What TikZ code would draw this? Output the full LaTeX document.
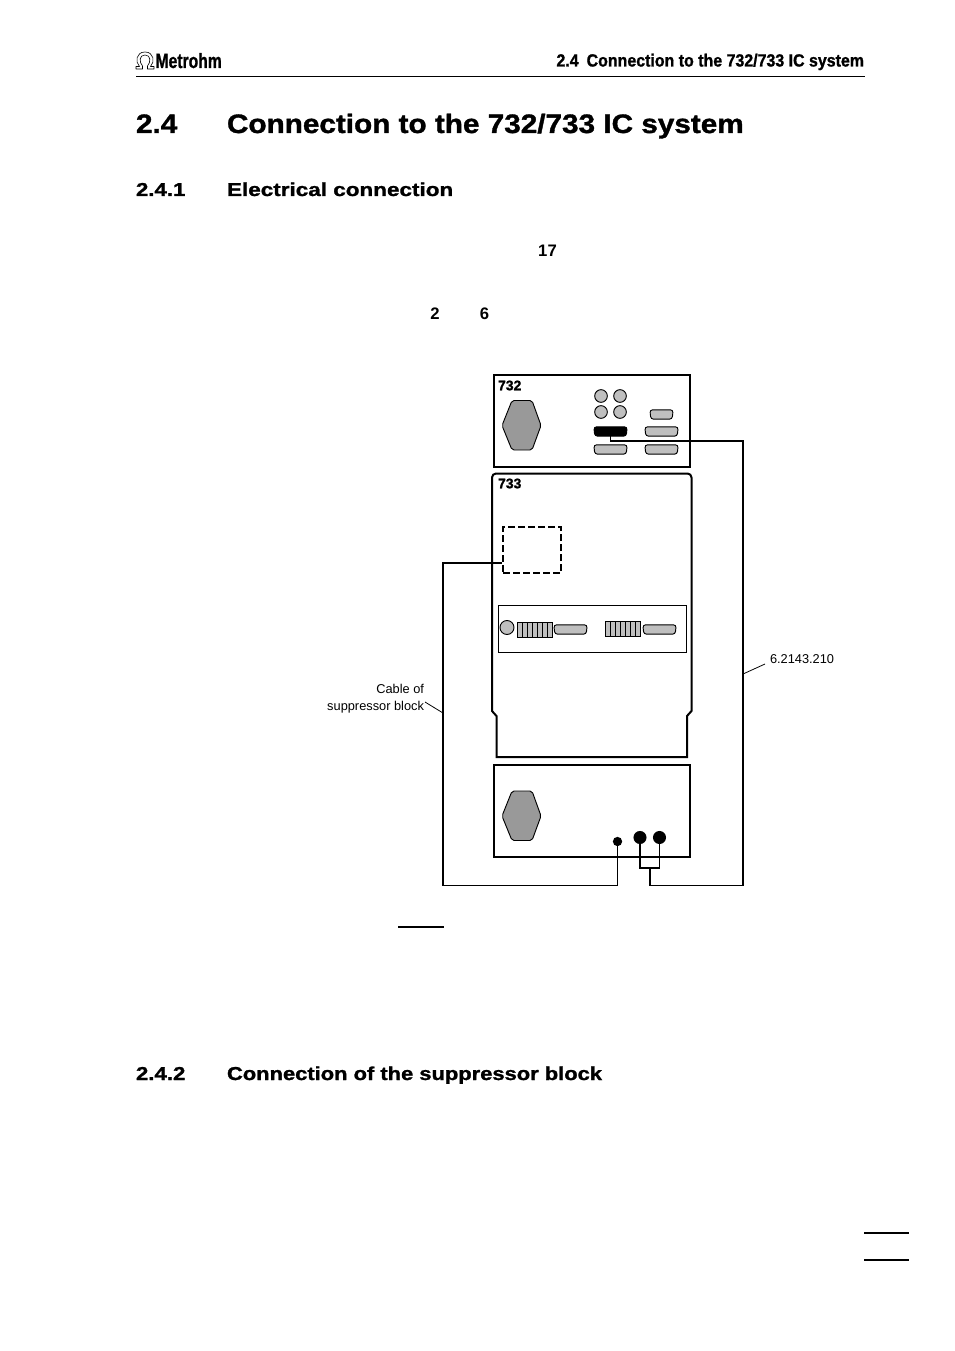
\documentclass[tikz,border=0pt]{standalone}
\usepackage{fontspec}
\usepackage{graphicx}
\setmainfont{Liberation Sans}
\newfontfamily\heavyfont[FakeBold=1.2]{Liberation Sans Bold}
\definecolor{hexgray}{gray}{0.6}
\definecolor{portgray}{gray}{0.75}
\tikzset{
  x=0.75pt,y=-0.75pt,
  unitbox/.style={draw,line width=1.5pt,fill=white},
  wire/.style={draw,line width=1pt,line join=miter},
  thinline/.style={draw,line width=0.6pt},
  hexbody/.style={draw,line width=0.7pt,fill=hexgray,rounded corners=1.5pt},
  dsubframe/.style={shape=rectangle,inner sep=0pt,minimum width=24.6pt,minimum height=6.6pt},
  dsubbody/.style={draw,line width=0.7pt,rounded corners=2pt},
  jack/.style={circle,draw,line width=0.7pt,fill=portgray,inner sep=0pt,minimum size=9.5pt},
  socket/.style={circle,fill=black,inner sep=0pt},
  rule/.style={draw,line width=1.1pt},
  txt/.style={inner sep=0pt,outer sep=0pt,text=black,font=\fontsize{9.6pt}{12.6pt}\selectfont},
  strip/.style={draw,line width=0.6pt,fill=portgray,inner sep=0pt},
}
\newcommand{\hexagon}[2]{% x, y of the left corner
  \path[hexbody] (#1,#2) -- ++(10,-25) -- ++(20,0) -- ++(9,25) -- ++(-9,24.5) -- ++(-20,0) -- cycle;}
\newcommand{\stripgrid}[4]{% x1 x2 y1 y2
  \path[strip] (#1,#3) rectangle (#2,#4);
  \foreach \k in {1,...,6}{\draw[line width=0.5pt] ({#1+\k*(#2-#1)/7},#3) -- ({#1+\k*(#2-#1)/7},#4);}}
\newcommand{\dsubport}[5]{% name, cx, cy, width(pt), fill
  \node[dsubframe,minimum width=#4] (#1) at (#2,#3) {};
  \path[dsubbody,fill=#5] (#1.north west) -- (#1.north east) -- ([xshift=-0.7pt]#1.south east) -- ([xshift=0.7pt]#1.south west) -- cycle;}
\newcommand{\headA}[1]{\scalebox{1.114}[1]{\fontsize{20pt}{24pt}\selectfont\heavyfont #1}}
\newcommand{\headB}[2]{\scalebox{#1}[1]{\fontsize{14pt}{17pt}\selectfont\heavyfont #2}}
\begin{document}
\begin{tikzpicture}
\useasboundingbox (0,0) rectangle (954,1351);
\fill[white] (0,0) rectangle (954,1351);
% header
\draw[line width=0.45pt,line join=round] (136,69) -- (136,66.5) -- (139.5,66.5) .. controls (135,62) and (136,52) .. (145,52) .. controls (154,52) and (155,62) .. (150.5,66.5) -- (154,66.5) -- (154,69) -- (147.5,69) -- (147.5,66) .. controls (151,62) and (151,55) .. (145,55) .. controls (139,55) and (139,62) .. (142.5,66) -- (142.5,69) -- cycle;
\node[txt,anchor=base west] (brand) at (155.5,68) {\scalebox{0.76}[1]{\fontsize{15.5pt}{17pt}\selectfont\heavyfont Metrohm}};
\node[txt,anchor=base east] (runhead) at (864,66.5) {\scalebox{0.906}[1]{\fontsize{13.2pt}{15pt}\selectfont\heavyfont 2.4\hspace{0.5em}Connection to the 732/733 IC system}};
\coordinate (hl) at (136,77);
\coordinate (hr) at (865,77);
\draw[line width=0.75pt] (hl) -- (hr);
% headings
\node[txt,anchor=base west] (h1n) at (136,133) {\headA{2.4}};
\node[txt,anchor=base west] (h1t) at (227,133) {\headA{Connection to the 732/733 IC system}};
\node[txt,anchor=base west] (h2n) at (136,196) {\headB{1.19}{2.4.1}};
\node[txt,anchor=base west] (h2t) at (227,196) {\headB{1.205}{Electrical connection}};
\node[txt,anchor=base west] (h3n) at (136,1080) {\headB{1.19}{2.4.2}};
\node[txt,anchor=base west] (h3t) at (227,1080) {\headB{1.174}{Connection of the suppressor block}};
% bold figures in the running text
\node[txt,font=\fontsize{12.5pt}{15pt}\selectfont\bfseries] (n17) at (547.5,251) {17};
\node[txt,font=\fontsize{12.5pt}{15pt}\selectfont\bfseries] (n2) at (435,314) {2};
\node[txt,font=\fontsize{12.5pt}{15pt}\selectfont\bfseries] (n6) at (484.5,314) {6};
% stray rules
\coordinate (ula) at (398,927); \coordinate (ulb) at (444,927);
\draw[rule] (ula) -- (ulb);
\coordinate (fa) at (864,1233); \coordinate (fb) at (909,1233);
\draw[rule] (fa) -- (fb);
\coordinate (ga) at (864,1260); \coordinate (gb) at (909,1260);
\draw[rule] (ga) -- (gb);

% unit 732
\node[unitbox,inner sep=0pt,minimum width=147pt,minimum height=69pt] (u732) at (591.7,421) {};
\node[txt,anchor=west,font=\fontsize{10.5pt}{12pt}\selectfont\heavyfont] (l732) at (498,385.5) {732};
\hexagon{502}{425.5}
\node[jack] (j1) at (601,396) {};
\node[jack] (j2) at (620,396) {};
\node[jack] (j3) at (601,412) {};
\node[jack] (j4) at (620,412) {};
\dsubport{psmall}{661.5}{414.5}{17pt}{portgray}
\dsubport{pblack}{610.5}{431.5}{24.6pt}{black}
\dsubport{pr1}{661.5}{431.5}{24.6pt}{portgray}
\dsubport{pl2}{610.5}{449.5}{24.6pt}{portgray}
\dsubport{pr2}{661.5}{449.5}{24.6pt}{portgray}

% unit 733
\path[unitbox] (496.5,757) -- (496.5,716) -- (492,711) [rounded corners=3pt] -- (492,473.5) -- (691.5,473.5) [sharp corners] -- (691.5,711) -- (687,716) -- (687,757) -- cycle;
\node[txt,anchor=west,font=\fontsize{10.5pt}{12pt}\selectfont\heavyfont] (l733) at (498,483.5) {733};
\node[draw,line width=1.3pt,dash pattern=on 5pt off 2.5pt,minimum width=43.5pt,minimum height=34.5pt,inner sep=0pt] (sup) at (532,550) {};
\node[draw,line width=0.6pt,minimum width=141pt,minimum height=35.2pt,inner sep=0pt] (panel) at (592,628.5) {};
\node[jack,minimum size=10.5pt] (pj) at (507,627.5) {};
\stripgrid{517}{552}{622}{637}
\dsubport{pa}{570.5}{629.5}{24.6pt}{portgray}
\stripgrid{605}{640}{621}{636}
\dsubport{pb}{659.5}{629.5}{24.6pt}{portgray}

% bottom unit
\node[unitbox,inner sep=0pt,minimum width=147pt,minimum height=69pt] (ubot) at (591.7,811) {};
\hexagon{502}{816}
\node[socket,minimum size=7pt] (s0) at (617.5,841.5) {};
\node[socket,minimum size=9.8pt] (s1) at (640,837.5) {};
\node[socket,minimum size=9.8pt] (s2) at (659.5,837.5) {};

% cables
\coordinate (brL) at (640,868);
\coordinate (brR) at (659.5,868);
\coordinate (brM) at (650,868);
\coordinate (cR) at (743,441);
\coordinate (cRb) at (743,885.5);
\coordinate (cS) at (650,885.5);
\coordinate (cL) at (443,563);
\coordinate (cLb) at (443,885.5);
\draw[wire] (pblack.south) |- (cR) -- (cRb) -- (cS) -- (brM);
\draw[wire] (s1.center) -- (brL) -- (brR) -- (s2.center);
\draw[wire] (sup.west |- cL) -- (cL) -- (cLb) -- (cLb -| s0) -- (s0.center);

% leaders and labels
\node[txt,align=right,anchor=north east] (lab1) at (424,684.7) {Cable of\\suppressor block};
\coordinate (l1a) at (425,702);
\coordinate (l1b) at (443,713);
\draw[thinline] (l1a) -- (l1b);
\node[txt,anchor=west] (lab2) at (770,659.5) {6.2143.210};
\coordinate (l2a) at (743,674);
\coordinate (l2b) at (765,664);
\draw[thinline] (l2a) -- (l2b);
\end{tikzpicture}
\end{document}
